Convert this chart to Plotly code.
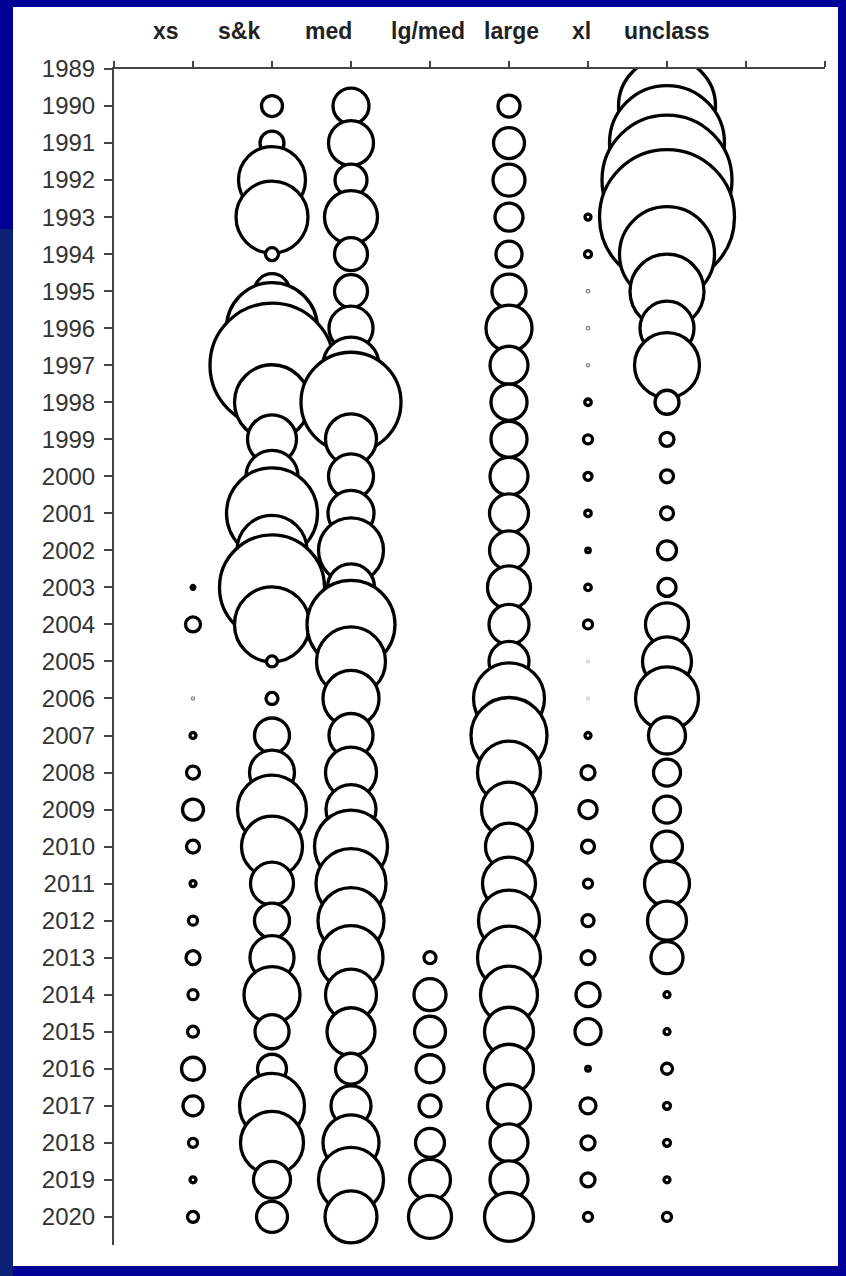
import plotly.graph_objects as go

# ---------------- data ----------------
years = list(range(1990, 2021))
categories = ["xs", "s&k", "med", "lg/med", "large", "xl", "unclass"]

xs = [None] * 13 + [0.14, 2.25, None, 0.1, 0.36, 1.69, 4.41, 1.69, 0.36, 0.81,
                    1.96, 1.0, 1.21, 5.29, 4.0, 0.81, 0.36, 1.21]
sk = [4.41, 5.76, 44.9, 51.8, 1.69, 12.25, 82.8, 153.8, 56.25, 24.0,
      27.0, 82.8, 49.0, 110.25, 56.25, 1.21, 1.44, 12.25, 20.25, 47.6,
      37.2, 18.5, 12.25, 19.4, 31.4, 11.6, 8.4, 42.25, 39.7, 13.7, 9.6]
med = [12.96, 20.25, 10.24, 28.1, 10.9, 10.9, 19.4, 31.4, 100.0, 26.0,
       20.25, 21.2, 42.25, 22.1, 77.4, 47.6, 31.4, 19.4, 26.0, 25.0,
       53.3, 49.0, 43.6, 41.0, 26.0, 23.0, 9.6, 16.0, 31.4, 42.25, 27.0]
lgmed = [None] * 23 + [1.44, 10.24, 9.6, 7.84, 4.84, 8.4, 16.8, 18.5]
large = [4.84, 9.6, 10.24, 7.84, 6.76, 11.6, 21.2, 14.4, 13.0, 13.0,
         14.4, 15.2, 15.2, 18.5, 16.0, 16.0, 50.4, 57.8, 39.7, 30.25,
         22.1, 28.1, 37.2, 39.7, 32.5, 24.0, 24.0, 18.5, 14.4, 14.4, 24.0]
xl = [None] * 3 + [0.36, 0.49, 0.12, 0.12, 0.1, 0.42, 0.81,
                   0.64, 0.42, 0.2, 0.42, 0.81, 0.08, 0.08, 0.36, 1.96, 3.24,
                   1.69, 0.81, 1.44, 1.96, 5.76, 6.76, 0.2, 2.56, 1.96, 1.96, 0.81]
unclass = [94.1, 132.25, 169.0, 182.25, 90.25, 54.8, 29.2, 42.25, 5.76, 1.96,
           1.69, 1.69, 3.61, 3.24, 18.5, 24.0, 39.7, 13.7, 7.29, 7.29,
           9.6, 20.25, 15.2, 10.24, 0.36, 0.36, 1.21, 0.49, 0.49, 0.36, 0.81]

series = [xs, sk, med, lgmed, large, xl, unclass]
y_ticks = list(range(1989, 2021))

# ---------------- layout constants ----------------
W, H = 846, 1276
ML, MR, MT, MB = 114, 21, 69, 31
PW, PH = W - ML - MR, H - MT - MB
label_x = [0.66, 1.58, 2.71, 3.97, 5.03, 5.92, 7.0]


def px_x(p):
    return (p - ML) / PW


def px_y(p):
    return (H - MB - p) / PH


fig = go.Figure()

for i, (name, vals) in enumerate(zip(categories, series)):
    yy, ss, lc, lw = [], [], [], []
    for yr, v in zip(years, vals):
        if v is None:
            continue
        yy.append(yr)
        ss.append(v)
        if v < 0.09:
            lc.append("#c8c8c8"); lw.append(1.2)
        elif v < 0.13:
            lc.append("#8a8a8a"); lw.append(1.4)
        else:
            lc.append("#000000"); lw.append(3.3)
    fig.add_trace(go.Scatter(
        x=[i + 1] * len(yy), y=yy, mode="markers", name=name,
        marker=dict(size=ss, sizemode="area", sizeref=0.02, sizemin=0,
                    color="white", opacity=1,
                    line=dict(color=lc, width=lw)),
        showlegend=False, cliponaxis=True, hoverinfo="skip",
    ))

for name, lx in zip(categories, label_x):
    fig.add_annotation(x=lx, y=px_y(31), xref="x", yref="paper",
                       text="<b>%s</b>" % name, showarrow=False,
                       font=dict(family="Liberation Sans, Arial", size=23, color="#222222"),
                       xanchor="center", yanchor="middle")

shapes = [
    dict(type="rect", xref="paper", yref="paper", layer="below",
         x0=px_x(13), x1=px_x(838), y0=px_y(1266), y1=px_y(7),
         fillcolor="white", line=dict(width=0)),
    dict(type="rect", xref="paper", yref="paper", layer="below",
         x0=px_x(0), x1=px_x(13), y0=px_y(1276), y1=px_y(229),
         fillcolor="#0b2178", line=dict(width=0)),
]

fig.update_layout(
    width=W, height=H,
    margin=dict(l=ML, r=MR, t=MT, b=MB, pad=0),
    paper_bgcolor="#000099", plot_bgcolor="white",
    shapes=shapes,
    font=dict(family="Liberation Sans, Arial", color="#333333"),
    xaxis=dict(range=[0, 9], side="top", tickvals=list(range(10)),
               showticklabels=False, ticks="outside", ticklen=6, tickwidth=1.5,
               tickcolor="#444444", showline=True, linecolor="#444444",
               linewidth=2, showgrid=False, zeroline=False, fixedrange=True),
    yaxis=dict(range=[2020.76, 1989], tickvals=y_ticks,
               ticktext=[str(t) for t in y_ticks],
               ticks="outside", ticklen=8, tickwidth=1.5, tickcolor="#444444",
               showline=True, linecolor="#444444", linewidth=2,
               showgrid=False, zeroline=False,
               tickfont=dict(family="Liberation Sans, Arial", size=24, color="#333333"),
               ticklabelstandoff=4),
)

fig.write_html(
    "out.html",
    config={"displayModeBar": False},
    post_script="document.body.style.margin='0px';"
                "document.body.style.overflow='hidden';"
                "document.documentElement.style.background='#000099';",
)
